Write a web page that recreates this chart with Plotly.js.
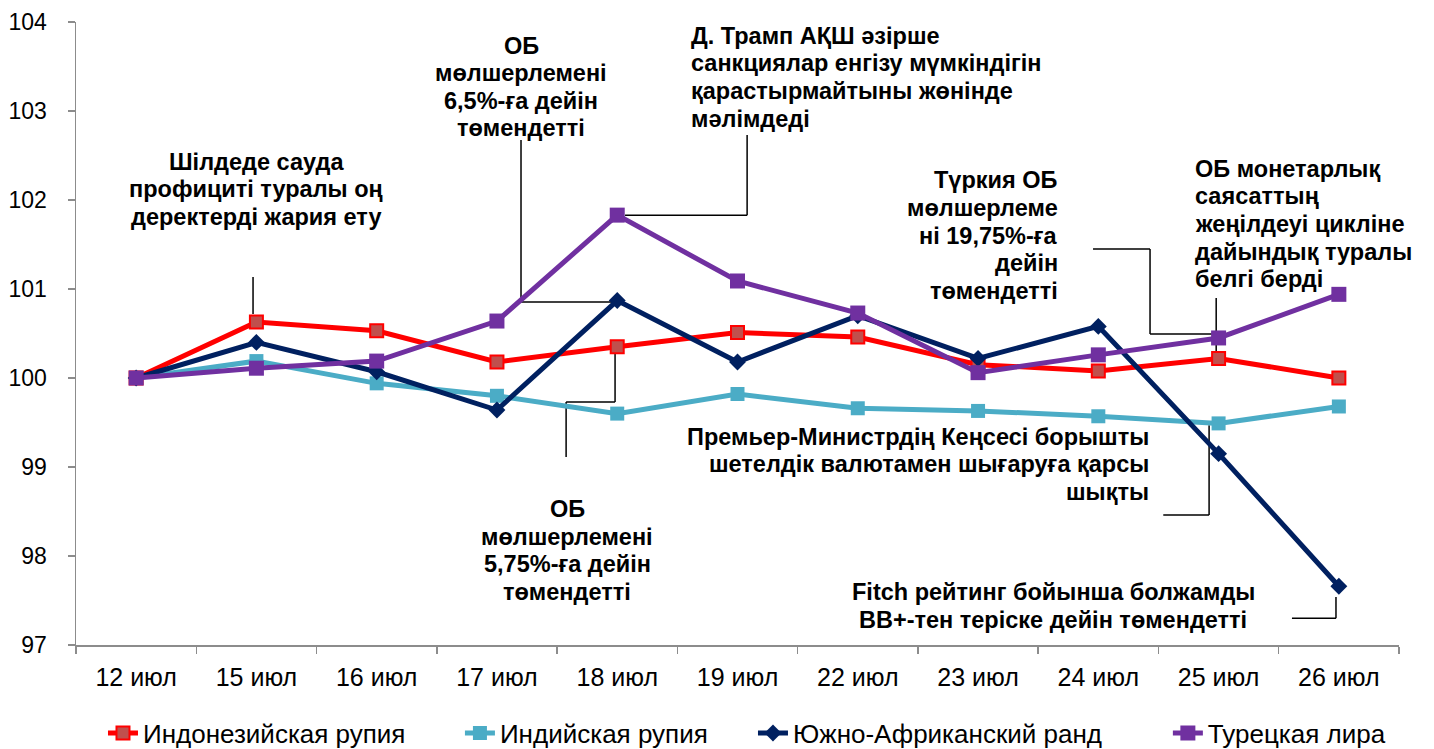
<!DOCTYPE html>
<html>
<head>
<meta charset="utf-8">
<script src="https://cdn.plot.ly/plotly-3.0.1.min.js"></script>
<style>html,body{margin:0;padding:0;background:#fff;}#chart{width:1434px;height:749px;}</style>
</head>
<body>
<div id="chart"></div>
<script>
const categories = ['12 июл','15 июл','16 июл','17 июл','18 июл','19 июл','22 июл','23 июл','24 июл','25 июл','26 июл'];
const seriesNames = ['Индонезийская рупия','Индийская рупия','Южно-Африканский ранд','Турецкая лира'];
const idr  = [100, 100.63, 100.53, 100.18, 100.35, 100.51, 100.46, 100.15, 100.08, 100.22, 100.00];
const inr  = [100, 100.19, 99.94, 99.80, 99.60, 99.82, 99.66, 99.63, 99.57, 99.49, 99.68];
const zar  = [100, 100.40, 100.07, 99.64, 100.87, 100.18, 100.70, 100.22, 100.58, 99.15, 97.66];
const tryl = [100, 100.11, 100.19, 100.64, 101.83, 101.09, 100.73, 100.06, 100.26, 100.45, 100.94];
const yTicks = [97, 98, 99, 100, 101, 102, 103, 104];

const noteLines = [
  ['Шілдеде сауда','профициті туралы оң','деректерді жария ету'],
  ['ОБ','мөлшерлемені','6,5%-ға дейін','төмендетті'],
  ['Д. Трамп АҚШ әзірше','санкциялар енгізу мүмкіндігін','қарастырмайтыны жөнінде','мәлімдеді'],
  ['Түркия ОБ','мөлшерлеме','ні 19,75%-ға','дейін','төмендетті'],
  ['ОБ монетарлық','саясаттың','жеңілдеуі цикліне','дайындық туралы','белгі берді'],
  ['Премьер-Министрдің Кеңсесі борышты','шетелдік валютамен шығаруға қарсы','шықты'],
  ['Fitch рейтинг бойынша болжамды','BB+-тен теріске дейін төмендетті'],
  ['ОБ','мөлшерлемені','5,75%-ға дейін','төмендетті']
];

// annotation block placement (category index, value of block centre)
const notePos = [
  {x:1.0,  y:102.12, xa:'center'},
  {x:3.2,  y:103.27, xa:'center'},
  {x:4.605,y:103.38, xa:'left'},
  {x:7.674,y:101.60, xa:'right'},
  {x:8.795,y:101.73, xa:'left'},
  {x:8.43, y:99.03,  xa:'right'},
  {x:7.624,y:97.44,  xa:'center'},
  {x:3.583,y:98.06,  xa:'center'}
];
const lineStep = 0.31; // vertical step between text lines, in value units

// connector polylines (category index, value)
const connectors = [
  [[0.972,101.135],[0.972,100.72]],
  [[3.2,102.674],[3.2,100.854],[3.98,100.854]],
  [[4.065,101.83],[5.08,101.83],[5.08,102.73]],
  [[7.956,101.45],[8.43,101.45],[8.43,100.494],[8.946,100.494]],
  [[8.98,100.9],[8.98,100.29]],
  [[8.921,99.47],[8.921,98.46],[8.54,98.46]],
  [[9.61,97.30],[9.976,97.30],[9.976,97.54]],
  [[3.575,99.112],[3.575,99.73],[3.982,99.73],[3.982,100.35]]
];

const FONT = '"Liberation Sans", Arial, sans-serif';
const legendX = [0.0204, 0.2902, 0.5117, 0.8253];

const traces = [
  {name: seriesNames[0], y: idr, line:{color:'#FF0000', width:5}, legend:'legend',
   marker:{symbol:'square', size:13, color:'#C0504D', line:{color:'#FF0000', width:2}}},
  {name: seriesNames[1], y: inr, line:{color:'#4BACC6', width:5}, legend:'legend2',
   marker:{symbol:'square', size:14, color:'#4BACC6'}},
  {name: seriesNames[2], y: zar, line:{color:'#002060', width:5}, legend:'legend3',
   marker:{symbol:'diamond', size:13, color:'#002060'}},
  {name: seriesNames[3], y: tryl, line:{color:'#7030A0', width:5}, legend:'legend4',
   marker:{symbol:'square', size:15, color:'#7030A0'}}
].map(t => Object.assign({type:'scatter', mode:'lines+markers', x: categories}, t));

const shapes = [];
connectors.forEach(pts => {
  for (let i = 0; i < pts.length - 1; i++) {
    shapes.push({type:'line', xref:'x', yref:'y',
      x0: pts[i][0], y0: pts[i][1], x1: pts[i+1][0], y1: pts[i+1][1],
      line:{color:'#000', width:1.5}, layer:'below'});
  }
});

const annotations = [];
noteLines.forEach((lines, i) => {
  const p = notePos[i];
  const top = p.y + (lines.length - 1) / 2 * lineStep;
  lines.forEach((t, k) => {
    annotations.push({
      text: t, xref:'x', yref:'y', x: p.x, y: top - k * lineStep,
      xanchor: p.xa, yanchor:'middle', showarrow:false, borderpad:0,
      font:{family:FONT, size:23.5, color:'#000', weight:700}
    });
  });
});

function legendAt(x) {
  return {orientation:'h', x:x, xanchor:'left', y:-0.1413, yanchor:'middle',
          bgcolor:'rgba(0,0,0,0)', font:{family:FONT, size:26, color:'#000'}};
}

const layout = {
  width:1434, height:749,
  margin:{l:76, r:35, t:22, b:104, autoexpand:false},
  paper_bgcolor:'#fff', plot_bgcolor:'#fff',
  font:{family:FONT, size:22, color:'#000'},
  showlegend:true,
  legend: legendAt(legendX[0]),
  legend2: legendAt(legendX[1]),
  legend3: legendAt(legendX[2]),
  legend4: legendAt(legendX[3]),
  xaxis:{type:'category', range:[-0.5, 10.5], showgrid:false, zeroline:false,
         showline:true, linecolor:'#8c8c8c', linewidth:1.5,
         ticks:'outside', tickson:'boundaries', ticklen:7, tickcolor:'#8c8c8c', tickwidth:1.5,
         tickfont:{family:FONT, size:25, color:'#000'}, ticklabelstandoff:9},
  yaxis:{range:[97, 104], tickvals:yTicks, showgrid:false, zeroline:false,
         showline:true, linecolor:'#8c8c8c', linewidth:1.5,
         ticks:'outside', ticklen:7, tickcolor:'#8c8c8c', tickwidth:1.5,
         tickfont:{family:FONT, size:23, color:'#000'}, ticklabelstandoff:16},
  shapes: shapes,
  annotations: annotations
};

Plotly.newPlot('chart', traces, layout, {displayModeBar:false, staticPlot:true});
</script>
</body>
</html>
